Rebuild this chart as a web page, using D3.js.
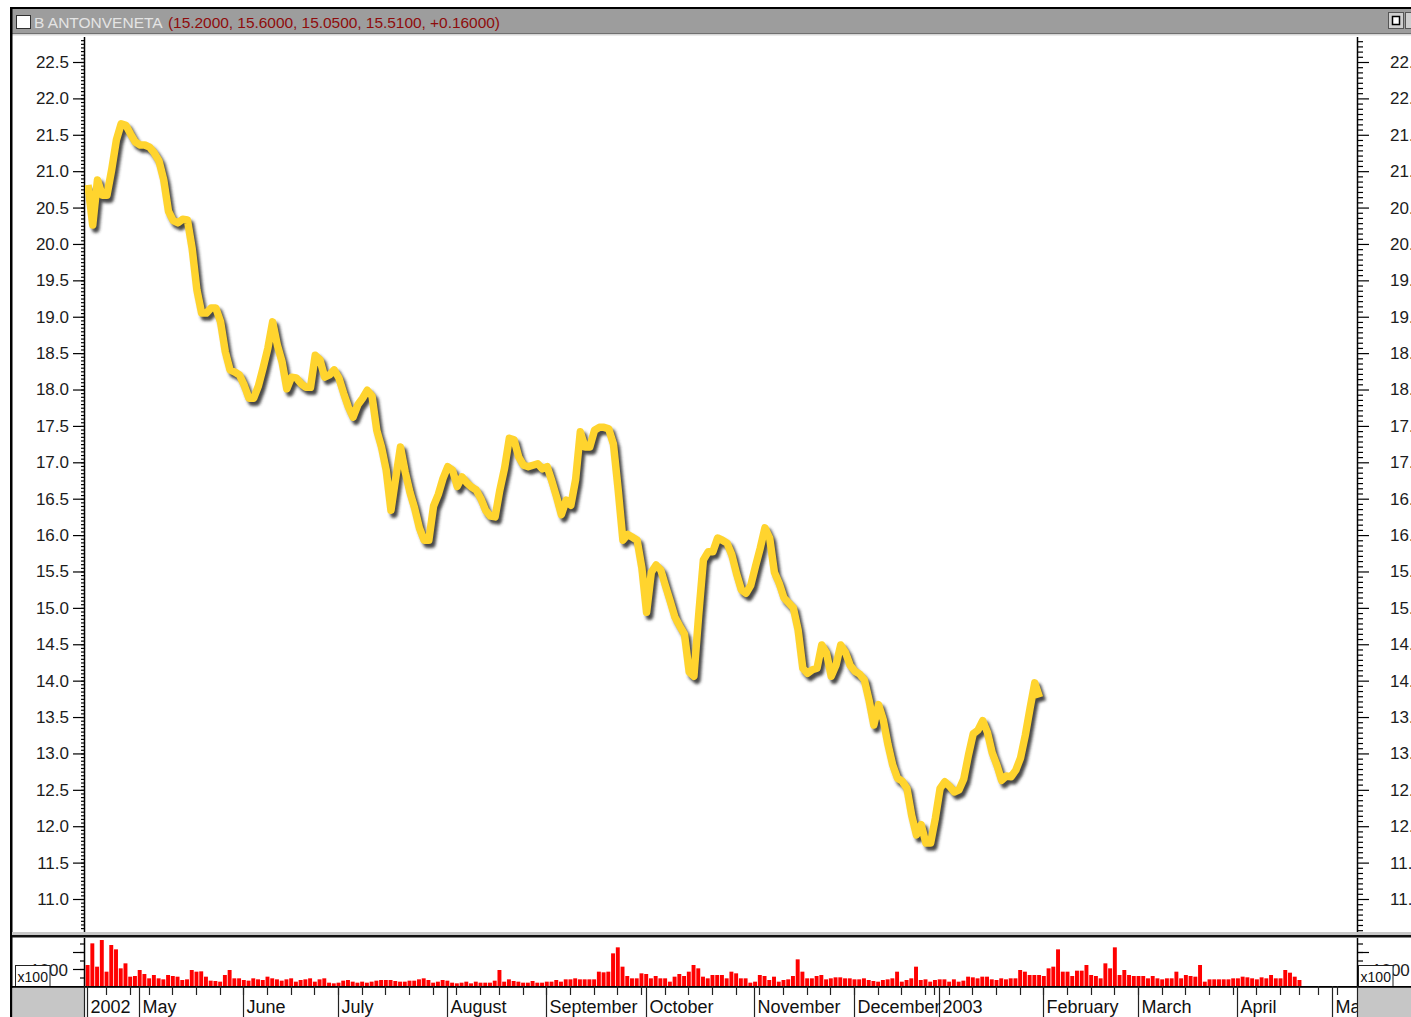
<!DOCTYPE html>
<html><head><meta charset="utf-8">
<script src="https://cdn.jsdelivr.net/npm/d3@7"></script>
<style>html,body{margin:0;padding:0;background:#fff;overflow:hidden}</style>
</head><body><svg id="c" width="1411" height="1017"></svg>
<script>
// ---------- data ----------
const titleName = "B ANTONVENETA";
const titleValues = "(15.2000, 15.6000, 15.0500, 15.5100, +0.16000)";
const firstDay = "2002-04-16";
const lastDay = "2003-05-20";
const holidays = ["2002-05-01","2002-08-15","2002-12-24","2002-12-25","2002-12-26","2002-12-31","2003-01-01","2003-04-18","2003-04-21","2003-05-01"];
const monthLabels = ["2002","May","June","July","August","September","October","November","December","2003","February","March","April","May"];
const priceTicks = [22.5,22.0,21.5,21.0,20.5,20.0,19.5,19.0,18.5,18.0,17.5,17.0,16.5,16.0,15.5,15.0,14.5,14.0,13.5,13.0,12.5,12.0,11.5,11.0];
const volumeTicks = [500,1000,1500,2000,2500];
const volumeMajor = [1000,2000];
const volumeLabel = [1000];
const volumeUnit = "x100";
const price = [
20.81,20.26,20.88,20.67,20.67,21.02,21.43,21.65,21.63,21.51,
21.40,21.36,21.36,21.33,21.25,21.14,20.88,20.45,20.32,20.29,
20.34,20.33,19.94,19.37,19.05,19.05,19.12,19.12,18.93,18.52,
18.27,18.24,18.20,18.06,17.88,17.88,18.05,18.30,18.57,18.93,
18.61,18.38,18.01,18.17,18.16,18.08,18.03,18.03,18.47,18.41,
18.17,18.20,18.27,18.16,17.95,17.76,17.62,17.79,17.88,17.99,
17.91,17.44,17.21,16.89,16.34,16.78,17.21,16.87,16.59,16.37,
16.10,15.93,15.93,16.40,16.56,16.78,16.94,16.89,16.67,16.80,
16.72,16.66,16.62,16.50,16.34,16.26,16.25,16.62,16.92,17.33,
17.31,17.07,16.96,16.94,16.96,16.98,16.91,16.94,16.74,16.52,
16.28,16.48,16.41,16.76,17.42,17.21,17.21,17.44,17.48,17.48,
17.46,17.25,16.62,15.93,16.01,15.97,15.93,15.55,14.94,15.49,
15.59,15.52,15.30,15.09,14.87,14.75,14.64,14.12,14.06,14.90,
15.66,15.77,15.77,15.96,15.93,15.89,15.73,15.47,15.25,15.20,
15.31,15.57,15.82,16.10,15.96,15.49,15.34,15.14,15.07,15.00,
14.70,14.17,14.10,14.15,14.17,14.49,14.38,14.06,14.21,14.49,
14.39,14.21,14.13,14.09,14.01,13.73,13.39,13.67,13.46,13.12,
12.84,12.66,12.62,12.52,12.15,11.88,12.02,11.77,11.77,12.11,
12.52,12.61,12.55,12.47,12.50,12.65,12.98,13.27,13.32,13.45,
13.29,13.01,12.84,12.63,12.69,12.68,12.77,12.94,13.25,13.62,
13.97,13.77
];
const volume = [
1235,2509,1137,2705,843,2411,2156,1039,1333,549,
588,941,706,451,647,451,392,647,588,549,
353,392,941,843,862,549,314,294,255,647,
941,451,451,353,314,451,392,353,549,451,
392,314,392,451,255,353,392,451,255,392,
451,196,157,196,314,353,255,196,255,196,
255,314,353,353,353,294,255,255,314,314,
392,451,353,196,255,353,314,196,157,196,
255,157,255,196,
196,196,314,941,255,392,294,255,196,196,
294,196,196,255,255,353,255,392,392,451,
392,392,392,392,843,804,843,1921,2274,1137,
588,451,451,745,706,451,588,451,451,255,
549,706,588,843,1235,1039,549,451,647,647,
647,451,843,745,451,451,196,255,647,588,
353,549,255,353,392,588,1568,843,451,451,
588,647,392,451,510,510,451,451,392,392,
451,353,294,255,353,392,451,843,255,353,
451,1137,353,392,255,353,392,
392,255,392,255,314,549,510,451,549,549,
392,353,451,392,451,451,941,843,647,647,
647,588,1039,1137,2156,843,843,588,902,902,
1235,647,588,451,1333,1039,2274,647,941,647,
588,588,588,451,588,451,392,451,451,843,
451,647,588,549,1235,255,392,392,392,392,
392,451,451,549,510,451,392,510,451,647,
451,451,941,784,549,353
];

// ---------- calendar ----------
const parse = d3.timeParse("%Y-%m-%d");
const fmt = d3.timeFormat("%Y-%m-%d");
const hol = new Set(holidays);
const days = d3.timeDay.range(parse(firstDay), parse(lastDay))
  .filter(d => d.getDay() !== 0 && d.getDay() !== 6 && !hol.has(fmt(d)));
const sepIdx = [], weekIdx = [];
days.forEach((d, i) => {
  if (i === 0 || d.getMonth() !== days[i-1].getMonth()) sepIdx.push(i);
  if (i > 0 && d.getDay() < days[i-1].getDay()) weekIdx.push(i);
});
const seps = sepIdx.slice(0, monthLabels.length).map((i, k) => ({i, label: monthLabels[k]}));

// ---------- layout ----------
const W = 1411, H = 1017;
const axL = 84, axR = 1357;
const plotTop = 37, plotBot = 932;
const volTop = 938, volBot = 986;
const svg = d3.select("#c");
const FONT = "'Liberation Sans', Arial, sans-serif";

const x = d3.scaleLinear().domain([0, 263]).range([88, 1333]);
const y = d3.scaleLinear().domain([11.0, 22.5]).range([899, 62]);
const yv = d3.scaleLinear().domain([0, 1000]).range([volBot, 969]);
const slot = x(1) - x(0);

const defs = svg.append("defs");
defs.append("filter").attr("id","blur").attr("x","-5%").attr("y","-5%").attr("width","110%").attr("height","110%")
  .append("feGaussianBlur").attr("stdDeviation", 1.4);
defs.append("clipPath").attr("id","plotclip").append("rect")
  .attr("x", axL+1).attr("y", plotTop).attr("width", axR-axL-2).attr("height", plotBot-plotTop);

svg.append("rect").attr("width", W).attr("height", H).attr("fill", "#fff");

// ---------- title bar ----------
svg.append("rect").attr("x", 10).attr("y", 7).attr("width", W-10).attr("height", 2).attr("fill", "#000");
svg.append("rect").attr("x", 12).attr("y", 9).attr("width", W-12).attr("height", 25).attr("fill", "#9d9d9d");
svg.append("rect").attr("x", 12).attr("y", 33).attr("width", W-12).attr("height", 1).attr("fill", "#707070");
svg.append("rect").attr("x", 12).attr("y", 34).attr("width", W-12).attr("height", 1.5).attr("fill", "#d6d6d6");
svg.append("rect").attr("x", 16.5).attr("y", 15.5).attr("width", 14).attr("height", 13).attr("fill", "#fff").attr("stroke", "#303030");
svg.append("text").attr("x", 34).attr("y", 27.5).attr("font-family", FONT).attr("font-size", 15.5)
  .attr("fill", "#e4e4e4").text(titleName);
svg.append("text").attr("x", 168).attr("y", 27.5).attr("font-family", FONT).attr("font-size", 15.5)
  .attr("fill", "#8e0c0c").attr("textLength", 332).text(titleValues);
svg.append("rect").attr("x", 1388.5).attr("y", 12.5).attr("width", 15).attr("height", 16).attr("fill", "#cfcfcf").attr("stroke", "#555");
svg.append("rect").attr("x", 1392.5).attr("y", 16.5).attr("width", 7).attr("height", 8).attr("fill", "#fff").attr("stroke", "#000").attr("stroke-width", 1.5);
svg.append("rect").attr("x", 1405.5).attr("y", 12.5).attr("width", 8).attr("height", 16).attr("fill", "#cfcfcf").attr("stroke", "#555");

// left frame
svg.append("rect").attr("x", 10).attr("y", 7).attr("width", 2.5).attr("height", H-7).attr("fill", "#000");

// ---------- price panel axes ----------
svg.append("line").attr("x1", axL+0.5).attr("x2", axL+0.5).attr("y1", plotTop).attr("y2", plotBot).attr("stroke", "#000").attr("stroke-width", 1.5);
svg.append("line").attr("x1", axR+0.5).attr("x2", axR+0.5).attr("y1", plotTop).attr("y2", plotBot).attr("stroke", "#000").attr("stroke-width", 1.5);

const minorL = d3.range(0, 300).map(k => 10.6 + k*0.05).filter(v => y(v) > plotTop+1 && y(v) < plotBot-1);
const minorR = [];
priceTicks.concat([23.0, 10.5]).forEach(t => { for (let k = 1; k < 7; k++) { const v = t + k*0.5/7; if (y(v) > plotTop+1 && y(v) < plotBot-1) minorR.push(v); } });

const gL = svg.append("g").attr("transform", `translate(${axL},0)`);
gL.call(d3.axisLeft(y).tickValues(minorL).tickSize(4).tickFormat(""));
gL.call(g => g.selectAll(".tick line").attr("transform", "translate(1,0)"));
const gL2 = svg.append("g").attr("transform", `translate(${axL},0)`);
gL2.call(d3.axisLeft(y).tickValues(priceTicks).tickSize(11).tickPadding(4).tickFormat(d3.format(".1f")));
const gR = svg.append("g").attr("transform", `translate(${axR+1},0)`);
gR.call(d3.axisRight(y).tickValues(minorR).tickSize(5).tickFormat(""));
const gR2 = svg.append("g").attr("transform", `translate(${axR+1},0)`);
gR2.call(d3.axisRight(y).tickValues(priceTicks).tickSize(11).tickPadding(21).tickFormat(d3.format(".1f")));
[gL, gL2, gR, gR2].forEach(g => {
  g.select(".domain").remove();
  g.selectAll(".tick line").attr("stroke", "#000").attr("stroke-width", 1.2);
  g.selectAll("text").attr("font-family", FONT).attr("font-size", 17).attr("fill", "#1c1c1c");
});

// ---------- price line ----------
const line = d3.line().x((d, i) => x(i)).y(d => y(d));
const gp = svg.append("g").attr("clip-path", "url(#plotclip)");
gp.append("path").datum(price).attr("d", line).attr("transform", "translate(3,4)")
  .attr("fill", "none").attr("stroke", "#333").attr("stroke-opacity", 0.9).attr("stroke-width", 7.5)
  .attr("stroke-linejoin", "round").attr("filter", "url(#blur)");
gp.append("path").datum(price).attr("d", line)
  .attr("fill", "none").attr("stroke", "#ffd42e").attr("stroke-width", 7.5)
  .attr("stroke-linejoin", "round").attr("stroke-linecap", "butt");

// ---------- panel separator ----------
svg.append("rect").attr("x", 12).attr("y", plotBot).attr("width", W-12).attr("height", 3).attr("fill", "#c8c8c8");
svg.append("rect").attr("x", 12).attr("y", plotBot+3).attr("width", W-12).attr("height", 2.5).attr("fill", "#111");

// ---------- volume panel ----------
svg.append("g").selectAll("rect").data(volume).join("rect")
  .attr("x", (d, i) => x(i) - slot/2)
  .attr("width", slot - 0.8)
  .attr("y", d => yv(d))
  .attr("height", d => volBot - yv(d))
  .attr("fill", "#ff0000");

svg.append("line").attr("x1", axL+0.5).attr("x2", axL+0.5).attr("y1", volTop).attr("y2", volBot).attr("stroke", "#000").attr("stroke-width", 1.5);
svg.append("line").attr("x1", axR+0.5).attr("x2", axR+0.5).attr("y1", volTop).attr("y2", volBot).attr("stroke", "#000").attr("stroke-width", 1.5);

const vL = svg.append("g").attr("transform", `translate(${axL},0)`);
vL.call(d3.axisLeft(yv).tickValues(volumeTicks).tickSize(4).tickFormat(""));
const vL2 = svg.append("g").attr("transform", `translate(${axL},0)`);
vL2.call(d3.axisLeft(yv).tickValues(volumeMajor).tickSize(11).tickFormat(""));
const vR = svg.append("g").attr("transform", `translate(${axR+1},0)`);
vR.call(d3.axisRight(yv).tickValues(volumeTicks).tickSize(5).tickFormat(""));
const vR2 = svg.append("g").attr("transform", `translate(${axR+1},0)`);
vR2.call(d3.axisRight(yv).tickValues(volumeMajor).tickSize(11).tickFormat(""));
[vL, vL2, vR, vR2].forEach(g => {
  g.select(".domain").remove();
  g.selectAll(".tick line").attr("stroke", "#000").attr("stroke-width", 1.2);
});
// volume value labels (partly covered by unit boxes, as in the original)
volumeLabel.forEach(v => {
  svg.append("text").attr("x", 68).attr("y", yv(v) + 6.5).attr("text-anchor", "end")
    .attr("font-family", FONT).attr("font-size", 17).attr("fill", "#1c1c1c").text(d3.format("d")(v));
  svg.append("text").attr("x", 1372).attr("y", yv(v) + 6.5)
    .attr("font-family", FONT).attr("font-size", 17).attr("fill", "#1c1c1c").text(d3.format("d")(v));
});
[[15.5, 50], [1358.5, 1393]].forEach(([a, b]) => {
  svg.append("rect").attr("x", a).attr("y", 965.5).attr("width", b - a).attr("height", 21).attr("fill", "#fff").attr("stroke", "#222");
  svg.append("text").attr("x", a + 2).attr("y", 982).attr("font-family", FONT).attr("font-size", 14)
    .attr("fill", "#111").attr("textLength", b - a - 4).text(volumeUnit);
});

// ---------- time axis ----------
svg.append("rect").attr("x", 12).attr("y", volBot).attr("width", W-12).attr("height", 1.8).attr("fill", "#000");
const gt = svg.append("g");
gt.selectAll("line.wk").data(weekIdx.filter(i => x(i) < axR)).join("line").attr("class", "wk")
  .attr("x1", i => Math.round(x(i)) - 0.5).attr("x2", i => Math.round(x(i)) - 0.5)
  .attr("y1", volBot).attr("y2", volBot + 9).attr("stroke", "#222").attr("stroke-width", 1.2);
gt.selectAll("line.sep").data(seps).join("line").attr("class", "sep")
  .attr("x1", d => Math.round(x(d.i)) - 0.5).attr("x2", d => Math.round(x(d.i)) - 0.5)
  .attr("y1", volBot).attr("y2", H).attr("stroke", "#222").attr("stroke-width", 1.2);
gt.selectAll("text").data(seps).join("text")
  .attr("x", d => Math.round(x(d.i)) + 2.5).attr("y", 1013)
  .attr("font-family", FONT).attr("font-size", 18).attr("fill", "#111").text(d => d.label);

// gray corner boxes
svg.append("rect").attr("x", 12.5).attr("y", volBot + 2).attr("width", axL - 12.5).attr("height", H - volBot - 2).attr("fill", "#c6c6c6");
svg.append("line").attr("x1", axL+0.5).attr("x2", axL+0.5).attr("y1", volBot).attr("y2", H).attr("stroke", "#222").attr("stroke-width", 1.2);
svg.append("rect").attr("x", axR + 1).attr("y", volBot + 2).attr("width", W - axR).attr("height", H - volBot - 2).attr("fill", "#c6c6c6");
svg.append("line").attr("x1", axR+0.5).attr("x2", axR+0.5).attr("y1", volBot).attr("y2", H).attr("stroke", "#222").attr("stroke-width", 1.2);
</script>
</body></html>
